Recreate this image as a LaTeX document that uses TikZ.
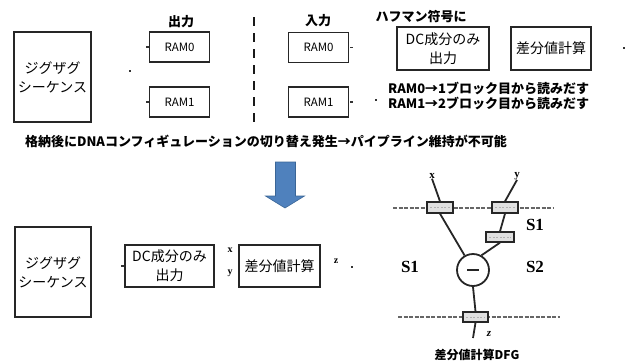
\documentclass[tikz,border=0pt]{standalone}
\usepackage{fontspec}
\setmainfont{Noto Sans CJK JP}
\newfontfamily\serifS{Liberation Serif}
\usetikzlibrary{calc}
\definecolor{arrowblue}{HTML}{4F81BD}
\definecolor{arrowedge}{HTML}{3A6596}
\tikzset{
  blk/.style={draw=black!85, line width=1.6pt, fill=white, inner sep=1pt, align=center, font=\fontsize{14}{19}\selectfont},
  ramblk/.style={blk, minimum width=60pt, minimum height=30pt, font=\fontsize{11.5}{14}\selectfont},
  hdr/.style={font=\bfseries\fontsize{13}{15}\selectfont},
  txt/.style={font=\bfseries\fontsize{13}{16}\selectfont, inner sep=0pt},
  port/.style={fill=black!80, inner sep=0pt, minimum width=2.5pt, minimum height=2.5pt},
  reg/.style={draw=black!85, line width=1.3pt, fill=black!12, minimum width=26pt, minimum height=11pt, inner sep=0pt},
  sep/.style={draw=black!60, line width=2.8pt, dash pattern=on 4pt off 1.5pt},
  wire/.style={draw=black!85, line width=1.8pt},
  lbl/.style={font=\serifS\bfseries\fontsize{10}{10}\selectfont, inner sep=0pt},
  stage/.style={font=\serifS\bfseries\fontsize{17}{18}\selectfont, inner sep=0pt}
}
\newcommand{\regline}[1]{\draw[white!70!black, line width=0.8pt, dash pattern=on 2pt off 1.5pt] ($(#1.west)+(4pt,0)$) -- ($(#1.east)+(-4pt,0)$);}
\begin{document}
\begin{tikzpicture}[x=1pt,y=-1pt]
\useasboundingbox (0,0) rectangle (632,362);
% ---------- top section ----------
\node[blk, minimum width=77pt, minimum height=90pt] (zz1) at (52.5,77) {ジグザグ\\シーケンス};
\node[port, minimum width=2pt, minimum height=2pt] (d1) at (130,71) {};
\node[hdr] (outl) at (181,22) {出力};
\node[ramblk] (ram0L) at (179.5,47) {RAM0};
\node[ramblk] (ram1L) at (179.5,102) {RAM1};
\node[port, minimum width=3pt, minimum height=1.5pt, anchor=east] (p0L) at (ram0L.west) {};
\node[port, minimum width=3pt, minimum height=1.5pt, anchor=east] (p1L) at (ram1L.west) {};
\coordinate (dtop) at (254,17);
\coordinate (dbot) at (254,125);
\draw[black!90, line width=2.8pt, dash pattern=on 9pt off 7pt] (dtop) -- (dbot);
\node[hdr] (inl) at (318,21) {入力};
\node[ramblk] (ram0R) at (318.5,47.5) {RAM0};
\node[ramblk] (ram1R) at (318.5,102) {RAM1};
\node[port, minimum width=3pt, minimum height=1.5pt, anchor=west] (p0R) at (ram0R.east) {};
\node[port, minimum width=3pt, minimum height=1.5pt, anchor=west] (p1R) at (ram1R.east) {};
\node[hdr] (huff) at (421,17) {ハフマン符号に};
\node[blk, minimum width=92pt, minimum height=43pt] (dc1) at (443,48.5) {DC成分のみ\\出力};
\node[blk, minimum width=80pt, minimum height=43pt] (diff1) at (551,48.5) {差分値計算};
\node[port, minimum width=2pt, minimum height=2.5pt] (d2) at (624,48) {};
\node[port, minimum width=2pt, minimum height=2pt] (d3) at (376,100) {};
\node[txt, anchor=west] (r0t) at (388,88) {RAM0→1ブロック目から読みだす};
\node[txt, anchor=west] (r1t) at (388,103) {RAM1→2ブロック目から読みだす};
\node[txt] (cap) at (266,141) {格納後にDNAコンフィギュレーションの切り替え発生→パイプライン維持が不可能};
% ---------- arrow ----------
\coordinate (atip) at (285,208);
\filldraw[fill=arrowblue, draw=arrowedge, line width=0.6pt]
  (275.5,162) -- (295.5,162) -- (295.5,196) -- (304.5,196) -- (atip) -- (265.5,196) -- (275.5,196) -- cycle;
% ---------- bottom section ----------
\node[blk, minimum width=76pt, minimum height=90pt] (zz2) at (53,272) {ジグザグ\\シーケンス};
\node[blk, minimum width=89pt, minimum height=42pt] (dc2) at (169.5,266) {DC成分のみ\\出力};
\node[port, minimum width=3pt, minimum height=1.5pt, anchor=east] (pdc2) at (dc2.west) {};
\node[blk, minimum width=81pt, minimum height=42pt] (diff2) at (279.5,266) {差分値計算};
\node[lbl] (xl) at (230,250) {x};
\node[lbl] (yl) at (230,273) {y};
\node[lbl] (zl) at (336,261) {z};
\node[port, minimum width=2.5pt, minimum height=2.5pt] (d4) at (352,267) {};
% ---------- DFG ----------
\node[lbl, font=\serifS\bfseries\fontsize{11}{11}\selectfont] (dx) at (432,176) {x};
\node[lbl, font=\serifS\bfseries\fontsize{11}{11}\selectfont] (dy) at (517,176) {y};
\coordinate (s1a) at (393,208);
\coordinate (s1b) at (553,208);
\coordinate (s2a) at (398,317);
\coordinate (s2b) at (560,317);
\draw[sep] (s1a) -- (s1b);
\draw[sep] (s2a) -- (s2b);
\node[reg] (rx) at (440,207.5) {};
\node[reg] (ry) at (505,207.5) {};
\node[reg, minimum width=28pt, minimum height=10pt] (rd) at (500,237) {};
\node[reg, minimum width=25pt, minimum height=10pt] (rz) at (475.5,317) {};
\regline{rx}\regline{ry}\regline{rd}\regline{rz}
\node[draw=black!85, line width=1.8pt, circle, minimum size=32pt, inner sep=0pt, fill=white] (sub) at (473,270) {};
\draw[black!85, line width=2.6pt] ($(sub.center)+(-6pt,0)$) -- ($(sub.center)+(6pt,0)$);
\coordinate (zend) at (473,338);
\draw[wire] (dx.south) -- (rx.north);
\draw[wire] (dy.south) -- (ry.north);
\draw[wire] (rx.south) -- (sub.120);
\draw[wire] (ry.south) -- (rd.north);
\draw[wire] (rd.south) -- (sub.60);
\draw[wire] (sub.south) -- (rz.north);
\draw[wire] (rz.south) -- (zend);
\node[lbl, font=\serifS\bfseries\itshape\fontsize{11}{11}\selectfont] (dz) at (489,334) {z};
\node[stage] (S1a) at (535,225) {S1};
\node[stage] (S1b) at (410,267) {S1};
\node[stage] (S2) at (535,267) {S2};
\node[txt, font=\bfseries\fontsize{12}{14}\selectfont] (dfg) at (477,355) {差分値計算DFG};
\end{tikzpicture}
\end{document}
